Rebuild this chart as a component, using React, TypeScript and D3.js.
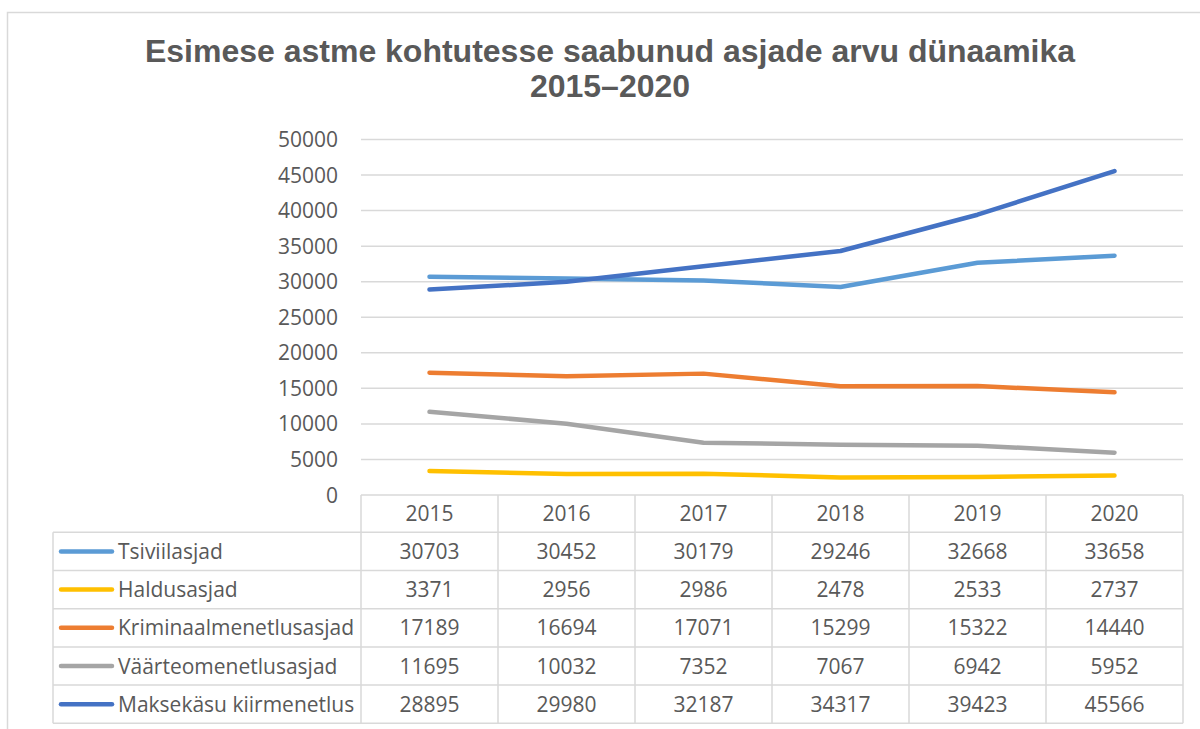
import React from "react";
import * as d3 from "d3";

const years = ["2015", "2016", "2017", "2018", "2019", "2020"];
const seriesNames = [
  "Tsiviilasjad",
  "Haldusasjad",
  "Kriminaalmenetlusasjad",
  "Väärteomenetlusasjad",
  "Maksekäsu kiirmenetlus",
];
const tsiviil = [30703, 30452, 30179, 29246, 32668, 33658];
const haldus = [3371, 2956, 2986, 2478, 2533, 2737];
const kriminaal = [17189, 16694, 17071, 15299, 15322, 14440];
const vaarteo = [11695, 10032, 7352, 7067, 6942, 5952];
const maksekasu = [28895, 29980, 32187, 34317, 39423, 45566];
const yTicks = [0, 5000, 10000, 15000, 20000, 25000, 30000, 35000, 40000, 45000, 50000];
const colors = ["#5B9BD5", "#FFC000", "#ED7D31", "#A5A5A5", "#4472C4"];
const titleLines = ["Esimese astme kohtutesse saabunud asjade arvu dünaamika", "2015–2020"];

const seriesValues = [tsiviil, haldus, kriminaal, vaarteo, maksekasu];

export default function App() {
  const W = 1200;
  const H = 729;
  const plotLeft = 361;
  const plotRight = 1183;
  const plotTop = 139.5;
  const plotBottom = 495;
  const legendLeft = 53;
  const headerBottom = 532.3;
  const rowH = 38.2;
  const gridColor = "#D9D9D9";
  const textColor = "#595959";
  const bodyFont = "'Open Sans', 'Noto Sans', sans-serif";
  const fs = 21;

  const x = d3.scaleBand<string>().domain(years).range([plotLeft, plotRight]).padding(0);
  const y = d3.scaleLinear().domain([0, 50000]).range([plotBottom, plotTop]);
  const line = d3
    .line<number>()
    .x((_, i) => (x(years[i]) as number) + x.bandwidth() / 2)
    .y((v) => y(v));

  const colEdges = years.map((yr) => x(yr) as number).concat([plotRight]);
  const rowEdges = d3.range(seriesNames.length + 1).map((i) => headerBottom + i * rowH);
  const tableBottom = rowEdges[rowEdges.length - 1];

  return (
    <svg
      width={W}
      height={H}
      style={{ position: "absolute", left: 0, top: 0, background: "#fff" }}
    >
      <rect x={7.5} y={12.5} width={W + 20} height={H + 20} fill="#fff" stroke={gridColor} strokeWidth={1.5} />

      {titleLines.map((t, i) => (
        <text
          key={i}
          x={610}
          y={61.5 + i * 35.5}
          textAnchor="middle"
          fontFamily="'Liberation Sans', Arial, sans-serif"
          fontWeight="bold"
          fontSize={32}
          fill={textColor}
        >
          {t}
        </text>
      ))}

      {/* gridlines */}
      {yTicks
        .filter((t) => t > 0)
        .map((t) => (
          <line key={t} x1={plotLeft} x2={plotRight} y1={y(t)} y2={y(t)} stroke={gridColor} strokeWidth={1.5} />
        ))}
      {/* y labels */}
      {yTicks.map((t) => (
        <text
          key={t}
          x={338}
          y={y(t)}
          dy="0.36em"
          textAnchor="end"
          fontFamily={bodyFont}
          fontSize={fs}
          fill={textColor}
        >
          {t}
        </text>
      ))}

      {/* table lines */}
      <line x1={plotLeft} x2={plotRight} y1={plotBottom} y2={plotBottom} stroke={gridColor} strokeWidth={1.5} />
      {rowEdges.map((ry, i) => (
        <line key={i} x1={legendLeft} x2={plotRight} y1={ry} y2={ry} stroke={gridColor} strokeWidth={1.5} />
      ))}
      <line x1={legendLeft} x2={legendLeft} y1={headerBottom} y2={tableBottom} stroke={gridColor} strokeWidth={1.5} />
      {colEdges.map((cx, i) => (
        <line key={i} x1={cx} x2={cx} y1={plotBottom} y2={tableBottom} stroke={gridColor} strokeWidth={1.5} />
      ))}

      {/* header years */}
      {years.map((yr) => (
        <text
          key={yr}
          x={(x(yr) as number) + x.bandwidth() / 2}
          y={(plotBottom + headerBottom) / 2}
          dy="0.36em"
          textAnchor="middle"
          fontFamily={bodyFont}
          fontSize={fs}
          fill={textColor}
        >
          {yr}
        </text>
      ))}

      {/* rows */}
      {seriesNames.map((name, si) => {
        const cy = rowEdges[si] + rowH / 2;
        return (
          <g key={name}>
            <line x1={61} x2={112} y1={cy} y2={cy} stroke={colors[si]} strokeWidth={4.5} strokeLinecap="round" />
            <text x={118} y={cy} dy="0.36em" fontFamily={bodyFont} fontSize={fs} fill={textColor}>
              {name}
            </text>
            {seriesValues[si].map((v, i) => (
              <text
                key={i}
                x={(x(years[i]) as number) + x.bandwidth() / 2}
                y={cy}
                dy="0.36em"
                textAnchor="middle"
                fontFamily={bodyFont}
                fontSize={fs}
                fill={textColor}
              >
                {v}
              </text>
            ))}
          </g>
        );
      })}

      {/* series lines */}
      {seriesValues.map((vals, si) => (
        <path
          key={si}
          d={line(vals) || ""}
          fill="none"
          stroke={colors[si]}
          strokeWidth={4.5}
          strokeLinecap="round"
          strokeLinejoin="round"
        />
      ))}
    </svg>
  );
}
